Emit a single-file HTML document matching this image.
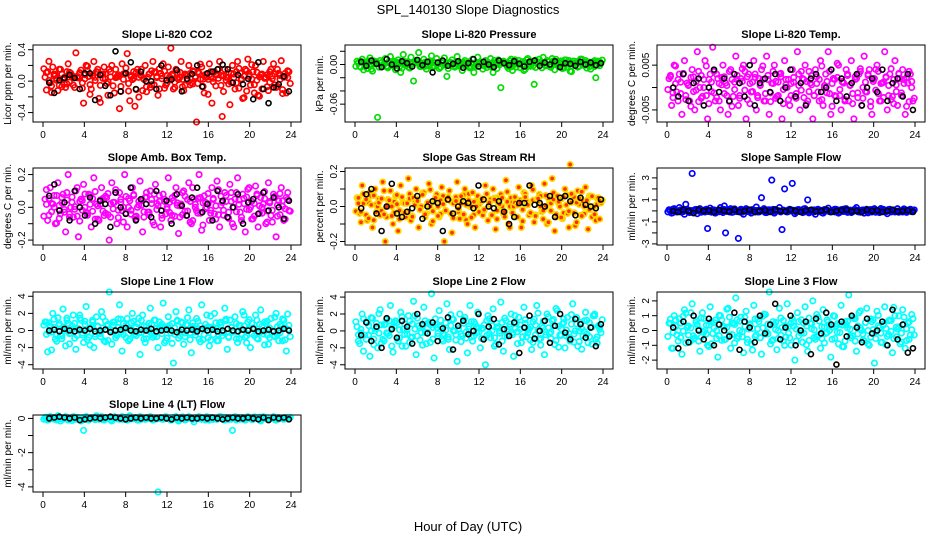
<!DOCTYPE html>
<html><head><meta charset="utf-8"><style>
html,body{margin:0;padding:0;background:#fff;}
svg{display:block;font-family:"Liberation Sans",sans-serif;}
</style></head><body>
<svg id="chart" width="936" height="540" viewBox="0 0 936 540">
<text x="468" y="14" text-anchor="middle" font-size="13">SPL_140130  Slope Diagnostics</text>
<text x="468" y="531" text-anchor="middle" font-size="13">Hour of Day (UTC)</text>
</svg>
<script>
const xTicks=[0,4,8,12,16,20,24];
const titles=["Slope Li-820 CO2","Slope Li-820 Pressure","Slope Li-820 Temp.","Slope Amb. Box Temp.","Slope Gas Stream RH","Slope Sample Flow","Slope Line 1 Flow","Slope Line 2 Flow","Slope Line 3 Flow","Slope Line 4 (LT) Flow"];
const yLabels=["Licor ppm per min.","kPa per min.","degrees C per min.","degrees C per min.","percent per min.","ml/min per min.","ml/min per min.","ml/min per min.","ml/min per min.","ml/min per min."];
const yRanges=[[-0.52,0.46],[-0.087,0.0295],[-0.0077,0.0095],[-0.23,0.24],[-0.22,0.22],[-3.1,3.9],[-4.5,4.5],[-4.5,4.6],[-2.6,2.6],[-4.3,0.2]];
const yTicks=[[-0.4,-0.2,0,0.2,0.4],[-0.06,-0.04,-0.02,0,0.02],[-0.005,0,0.005],[-0.2,-0.1,0,0.1,0.2],[-0.2,-0.1,0,0.1,0.2],[-3,-2,-1,0,1,2,3],[-4,-2,0,2,4],[-4,-2,0,2,4],[-2,-1,0,1,2],[-4,-3,-2,-1,0]];
const yTickLabels=[["-0.4","","0.0","","0.4"],["-0.06","","","0.00",""],["-0.005","","0.005"],["-0.2","","0.0","","0.2"],["-0.2","","0.0","","0.2"],["-3","","-1","","1","","3"],["-4","-2","0","2","4"],["-4","-2","0","2","4"],["-2","-1","0","1","2"],["-4","","-2","","0"]];
const colors=["#ff0000","#00dd00","#ff00ff","#ff00ff","#ffd700","#0000ff","#00ffff","#00ffff","#00ffff","#00ffff"];
const colored=[
[0.05,0.12,-0.02,0.18,0.08,-0.12,0.15,0.02,-0.08,0.22,0.1,-0.05,0.36,0.04,0.14,-0.28,0.2,0.06,-0.1,0.25,0.12,-0.22,0.08,0.18,-0.03,0.15,0.2,-0.15,0.05,-0.35,0.22,0.1,0.35,-0.25,0.02,-0.32,0.15,0.08,-0.12,0.2,0.05,-0.08,0.25,0.12,-0.18,0.1,0.22,-0.05,0.18,0.42,-0.1,0.15,0.02,0.25,-0.12,0.08,0.2,-0.02,0.12,-0.52,0.1,0.18,-0.15,0.05,0.22,-0.28,0.12,0.08,0.25,-0.45,0.15,0.05,-0.3,0.2,-0.1,0.25,0.1,-0.22,0.15,0.28,-0.05,0.12,0.2,-0.18,0.08,0.25,0.05,-0.12,0.15,0.22,-0.08,0.1,0.26,0.05,-0.15,0.12],
[0.005,-0.003,0.008,0.002,-0.006,0.01,-0.01,0.004,-0.08,0.006,-0.002,0.009,-0.005,0.012,0.003,-0.008,0.007,-0.012,0.015,0.001,-0.004,0.011,-0.025,0.006,0.018,-0.003,0.008,-0.007,0.004,0.013,-0.002,0.009,-0.006,0.005,0.01,-0.018,0.003,0.007,-0.004,0.012,0.002,-0.009,0.006,0.001,-0.005,0.008,-0.003,0.011,0.004,-0.007,0.006,-0.001,0.009,-0.012,0.003,0.007,-0.035,0.005,0.002,-0.006,0.008,0.001,-0.004,0.006,0.003,-0.009,0.007,-0.002,0.005,-0.03,0.004,0.008,-0.005,0.002,0.006,-0.003,0.009,-0.008,0.004,0.001,-0.006,0.007,0.003,-0.01,0.005,0.002,-0.004,0.008,-0.001,0.006,0.003,-0.007,0.004,-0.02,0.005,0.002],
[0.002,-0.004,0.005,-0.001,0.003,-0.006,0.006,0.001,-0.003,0.004,-0.005,0.008,0.0,-0.002,0.006,-0.007,0.003,0.009,-0.003,0.002,-0.005,0.005,0.001,-0.006,0.004,-0.002,0.007,-0.004,0.002,0.005,-0.007,0.003,-0.001,0.006,-0.005,0.002,0.004,-0.003,0.007,-0.006,0.001,0.005,-0.002,0.003,-0.007,0.006,0.0,-0.004,0.004,-0.002,0.008,-0.005,0.002,0.005,-0.003,0.001,-0.007,0.004,-0.001,0.006,-0.004,0.003,0.008,-0.006,0.002,-0.002,0.005,-0.005,0.001,0.004,-0.003,0.006,-0.007,0.002,0.003,-0.004,0.007,-0.001,0.004,-0.006,0.002,0.005,-0.003,0.001,0.008,-0.005,0.003,-0.002,0.006,-0.004,0.002,0.004,-0.006,0.001,0.003,-0.003],
[0.05,-0.08,0.12,0.02,-0.1,0.15,-0.04,0.08,-0.15,0.2,0.0,-0.06,0.1,-0.18,0.05,0.14,-0.03,0.08,-0.12,0.18,0.02,-0.08,0.12,-0.05,0.06,-0.2,0.15,0.03,-0.1,0.09,-0.02,0.2,-0.12,0.04,0.12,-0.06,0.0,0.16,-0.15,0.06,-0.03,0.1,-0.09,0.14,0.01,-0.12,0.08,-0.04,0.18,-0.08,0.04,0.12,-0.16,0.02,0.1,-0.05,0.15,-0.1,0.05,-0.02,0.2,-0.14,0.07,0.0,-0.08,0.12,-0.04,0.16,-0.12,0.03,0.09,-0.06,0.14,-0.1,0.05,0.18,-0.03,0.08,-0.15,0.11,0.0,-0.07,0.13,-0.12,0.06,0.02,-0.1,0.15,-0.05,0.08,-0.18,0.04,0.12,-0.08,0.06,-0.02],
[0.05,-0.04,0.12,0.02,-0.08,0.08,-0.12,0.1,0.0,-0.05,0.14,-0.2,0.04,0.09,-0.1,0.06,-0.14,0.12,0.02,-0.06,0.16,-0.08,0.05,0.1,-0.12,0.0,0.08,-0.04,0.13,-0.1,0.03,0.07,-0.06,0.11,-0.2,0.04,0.09,-0.15,0.02,0.14,-0.07,0.05,0.1,-0.1,0.0,0.08,-0.12,0.06,0.03,-0.05,0.12,-0.08,0.04,0.1,-0.13,0.02,0.07,-0.04,0.15,-0.1,0.05,0.0,-0.06,0.11,-0.12,0.08,0.03,-0.05,0.12,-0.09,0.04,0.07,-0.03,0.13,-0.1,0.02,0.16,-0.14,0.06,0.0,-0.07,0.1,-0.04,0.24,0.05,-0.11,0.09,-0.05,0.03,0.11,-0.13,0.06,0.0,-0.08,0.05,0.02],
[0.1,-0.2,0.2,-0.1,0.3,0.0,-0.3,0.15,-0.15,3.4,0.1,-0.25,0.2,0.0,-0.1,-1.6,0.25,0.1,-0.2,0.05,0.3,-0.15,-2.0,0.1,0.2,-0.1,0.0,-2.5,0.15,-0.3,0.2,0.1,-0.2,0.0,0.35,-0.1,1.2,0.2,-0.15,0.1,2.8,-0.2,0.0,0.3,-1.7,2.0,-0.1,0.15,2.5,-0.25,0.1,0.0,-0.15,0.2,1.0,-0.1,0.05,-0.3,0.15,0.0,-0.2,0.1,0.25,-0.1,0.0,0.15,-0.2,0.1,-0.05,0.2,0.0,-0.15,0.1,0.3,-0.1,0.05,-0.2,0.15,0.0,-0.1,0.2,0.05,-0.15,0.1,0.0,-0.25,0.15,0.05,-0.1,0.2,0.0,-0.1,0.1,-0.05,0.15,0.0],
[1.0,-2.5,0.5,2.0,-1.0,1.5,-0.5,2.5,-1.8,0.8,-0.3,1.8,-2.2,0.2,1.2,-1.4,2.8,-0.8,0.4,-2.0,1.6,-0.2,2.2,-1.2,0.6,4.5,-1.6,1.0,-0.6,3.0,-2.4,0.3,1.4,-1.0,2.0,-0.4,0.8,-2.8,1.8,-1.4,0.0,2.6,-0.8,1.2,-2.0,0.5,3.2,-1.2,1.6,-0.3,-3.8,2.2,-0.9,1.0,-1.6,0.7,2.4,-2.6,0.2,1.4,-1.0,3.0,-0.5,1.8,-1.8,0.4,2.0,-1.2,0.9,-0.6,2.6,-2.2,1.2,-0.2,1.6,-1.4,0.6,2.2,-0.8,1.0,-2.0,0.3,1.8,-1.0,2.4,-0.4,0.8,-1.6,1.4,-0.6,2.0,-1.2,0.5,1.2,-2.4,0.6],
[0.5,-1.5,2.0,-0.5,1.0,-3.0,1.5,0.0,-2.0,2.5,-1.0,0.8,-0.3,3.0,-2.5,1.2,-1.2,2.2,0.2,-1.8,1.8,-0.8,3.5,-2.8,0.6,-0.2,2.8,-1.5,1.0,4.4,-3.2,0.4,2.4,-1.0,-0.5,3.2,-2.2,1.4,0.0,-3.6,2.0,-0.6,1.6,-2.6,3.0,-1.2,0.8,2.2,-2.0,0.3,-4.0,1.8,-0.8,2.6,-1.6,0.5,3.4,-2.4,1.2,-0.4,2.0,-3.0,0.9,1.6,-1.4,2.8,-0.7,0.2,-2.2,1.4,3.0,-1.0,0.6,-2.8,2.0,-0.3,1.2,-1.6,2.4,-0.5,0.8,-2.0,1.6,-1.2,3.2,0.0,-1.8,1.0,-0.6,2.2,-1.4,0.4,1.8,-1.0,0.6,-0.2],
[0.5,-1.2,1.0,-0.3,0.8,-1.6,1.4,0.2,-0.8,1.8,-0.5,0.4,-1.4,1.2,0.0,-1.0,1.6,-0.2,0.7,-1.8,1.0,0.3,-0.6,1.5,-1.2,0.5,2.2,-0.4,0.9,-1.5,1.3,0.1,-0.9,1.7,-0.3,0.6,-1.6,1.1,-0.1,2.6,-0.7,0.4,-1.3,1.5,0.2,-1.0,1.8,-0.5,0.8,-2.0,1.2,0.0,-0.8,1.6,-1.4,0.5,2.0,-0.6,0.9,-1.2,1.4,-0.2,0.6,-1.8,1.0,0.3,-0.9,1.7,-1.1,0.4,2.4,-0.5,0.8,-1.4,1.2,0.0,-0.7,1.5,-1.0,0.6,-2.2,1.3,0.2,-0.8,1.6,-0.4,0.7,-1.5,1.0,0.1,-0.9,1.4,-1.2,0.5,-0.3,0.8],
[0.05,-0.1,0.1,0.0,-0.05,0.15,-0.15,0.05,0.1,-0.1,0.0,0.1,-0.05,0.05,-0.15,-0.7,0.1,-0.1,0.05,0.0,0.15,-0.05,0.1,-0.1,0.05,0.0,-0.15,0.1,0.05,-0.05,0.1,0.0,-0.1,0.15,0.0,0.05,-0.1,0.1,0.0,-0.05,0.05,0.1,-0.1,0.0,-4.3,0.05,-0.05,0.1,0.0,-0.1,0.05,0.1,-0.15,0.0,0.05,-0.05,0.1,0.0,-0.2,0.05,0.1,-0.05,0.0,0.1,-0.1,0.05,0.0,-0.05,0.1,0.05,-0.1,0.0,0.05,-0.7,0.1,0.0,-0.05,0.05,-0.1,0.1,0.0,-0.05,0.05,0.0,-0.15,0.1,0.05,-0.05,0.0,0.1,-0.1,0.05,0.0,-0.05,0.05,0.0]
];
const black=[
[-0.02,-0.15,0.01,0.04,0.08,0.04,-0.1,0.1,0.1,-0.24,0.08,-0.06,-0.18,0.38,-0.13,0.1,0.24,-0.1,0.12,0.0,0.0,-0.1,0.2,0.01,0.02,0.14,-0.13,0.03,0.09,0.2,-0.07,0.1,0.12,0.15,0.21,0.15,-0.02,0.08,-0.04,0.03,-0.23,0.24,-0.1,-0.28,-0.08,-0.04,0.06,-0.13],
[0.004,-0.002,0.006,0.001,-0.004,0.008,0.0,-0.006,0.005,0.002,-0.003,0.007,-0.001,0.004,-0.012,0.003,0.006,-0.002,0.001,0.005,-0.005,0.002,0.008,-0.003,0.004,0.0,-0.004,0.006,0.002,-0.001,0.005,0.001,-0.003,0.004,0.006,-0.002,0.003,0.0,0.005,-0.004,0.002,0.001,-0.002,0.004,0.0,0.003,-0.001,0.002],
[0.0,-0.002,0.003,-0.003,0.001,0.002,-0.004,0.0,0.004,-0.001,0.002,-0.003,0.003,0.001,-0.002,0.005,-0.004,0.001,0.002,-0.001,0.003,-0.003,0.0,0.004,-0.002,0.001,-0.004,0.002,0.003,-0.001,0.0,0.004,-0.003,0.002,-0.002,0.001,0.003,-0.004,0.0,0.002,-0.001,0.004,-0.003,0.001,0.002,-0.002,0.003,-0.005],
[0.07,0.14,-0.02,0.03,-0.08,0.1,0.0,-0.05,0.06,-0.1,0.04,0.02,-0.12,0.09,0.0,-0.04,0.12,-0.08,0.05,0.02,-0.06,0.1,-0.02,0.04,-0.1,0.08,0.01,-0.05,0.06,0.12,-0.03,0.02,-0.08,0.1,0.04,-0.06,0.0,0.08,-0.1,0.03,0.05,-0.04,0.09,-0.02,0.06,0.0,-0.07,0.04],
[-0.01,0.07,0.1,-0.04,-0.14,0.0,0.13,-0.04,-0.06,-0.03,-0.01,0.06,-0.07,0.0,0.03,0.02,-0.14,0.04,-0.04,0.0,0.03,0.02,-0.01,0.12,0.04,0.0,-0.01,0.03,-0.03,-0.1,-0.06,0.02,0.02,0.12,0.01,0.02,0.0,0.06,-0.06,0.05,0.06,0.03,-0.05,0.05,0.01,0.0,-0.01,0.04],
[0.0,-0.1,0.1,0.0,-0.2,0.1,0.0,0.05,-0.1,0.1,0.0,-0.05,0.1,-0.1,0.0,0.1,-0.1,0.0,0.05,-0.1,0.1,0.0,-0.05,0.1,0.0,-0.1,0.05,0.1,-0.05,0.0,0.1,-0.1,0.0,0.05,0.1,-0.05,0.0,-0.1,0.1,0.0,0.05,-0.1,0.0,0.1,-0.05,0.0,0.05,-0.1],
[0.0,0.1,-0.1,0.2,0.0,-0.1,0.1,0.0,0.2,-0.1,0.0,0.1,-0.2,0.0,0.1,0.3,0.0,-0.1,0.1,0.0,0.2,-0.1,0.0,0.1,0.0,-0.2,0.1,0.0,0.1,-0.1,0.2,0.0,0.1,-0.1,0.0,0.2,0.0,-0.1,0.1,0.0,0.2,-0.1,0.0,0.1,-0.1,0.0,0.2,0.0],
[-0.5,1.0,-1.2,0.5,-2.0,1.5,0.2,-0.8,1.2,0.5,-1.5,2.0,0.8,-0.3,1.0,-1.2,0.3,1.6,-2.2,0.6,1.2,-0.4,0.0,2.0,-1.0,0.5,1.4,-1.6,0.2,-0.6,1.0,-2.6,0.4,1.8,-0.9,0.0,1.2,-1.4,0.6,2.0,-0.2,-1.0,1.4,0.8,-0.8,0.4,-1.8,0.8],
[0.2,-1.2,0.6,-0.8,1.0,0.0,-0.6,0.8,-1.0,0.4,0.0,-0.4,1.2,-1.3,0.6,0.2,-0.8,1.0,-0.2,0.4,1.8,-0.6,0.2,1.0,-1.0,0.0,0.6,-1.6,0.8,-0.2,1.2,0.4,-2.3,0.6,-0.4,1.0,0.2,-0.8,0.8,-0.2,0.0,0.6,-1.0,1.4,-0.6,0.4,-1.5,-1.2],
[0.0,0.05,0.1,0.05,0.0,0.05,-0.1,-0.05,0.0,0.05,0.0,0.05,0.1,0.05,0.0,-0.05,0.0,0.05,0.0,0.05,0.0,0.0,0.05,0.0,-0.05,0.05,0.0,0.05,0.0,0.0,0.05,0.0,0.05,0.0,-0.05,0.0,0.05,0.0,0.0,0.05,0.0,-0.05,0.05,-0.1,0.05,0.0,0.05,-0.05]
];
const svg=document.getElementById('chart');
const NS='http://www.w3.org/2000/svg';
const colLeft=[33,345,657], rowTop=[45,168,292,415], W=268, H=77;
function mk(tag,attrs,parent){const e=document.createElementNS(NS,tag);for(const k in attrs)e.setAttribute(k,attrs[k]);parent.appendChild(e);return e;}
for(let p=0;p<titles.length;p++){
  const L=colLeft[p%3], T=rowTop[Math.floor(p/3)];
  const g=mk('g',{},svg);
  
  
  const [ymin,ymax]=yRanges[p];
  const xs=h=>L+10+h*(W-20)/24;
  const ys=v=>T+H-(v-ymin)/(ymax-ymin)*H;
  const t=mk('text',{x:L+W/2,y:T-7,'text-anchor':'middle','font-size':'11','font-weight':'bold'},g);
  t.textContent=titles[p];
  
  
  const yl=mk('text',{x:0,y:0,'text-anchor':'middle','font-size':'10',transform:`translate(${L-22},${T+H/2}) rotate(-90)`},g);
  yl.textContent=yLabels[p];
  
  
  const cs=colored[p], n=cs.length;
  const meanAbs=cs.reduce((a,b)=>a+Math.abs(b),0)/n;
  const pg=mk('g',{},g);
  
  
  const fillC=(p==4?'#ff3000':'none');
  for(let i=0;i<n;i++){
    const h=0.2+i*23.6/(n-1);
    const c=mk('circle',{cx:xs(h),cy:ys(cs[i]),r:2.7,fill:fillC,stroke:colors[p],'stroke-width':1.7},pg);
    
    
    // companion points (neighbouring minutes) built from the same series, outliers excluded
    [[Math.floor(n/2),0.6,1.3],[Math.floor(n/3),0.45,-1.2]].forEach(([off,f,dx])=>{
      const v=cs[(i+off)%n];
      if(Math.abs(v)>3*meanAbs) return;
      const c2=mk('circle',{cx:xs(h)+dx,cy:ys(v*f),r:2.7,fill:fillC,stroke:colors[p],'stroke-width':1.7},pg);
      
      
    });
  }
  const bs=black[p], m=bs.length;
  const bg=mk('g',{},g);
  
  
  for(let i=0;i<m;i++){
    const h=0.6+i*23.2/(m-1);
    const c=mk('circle',{cx:xs(h),cy:ys(bs[i]),r:2.5,fill:'none',stroke:'#000','stroke-width':1.6},bg);
    
    
  }
  const box=mk('rect',{x:L,y:T,width:W,height:H,fill:'none',stroke:'#000','stroke-width':1},g);
  
  
  mk('line',{x1:xs(0),x2:xs(24),y1:T+H,y2:T+H,stroke:'#000'},g);
  xTicks.forEach(v=>{
    mk('line',{x1:xs(v),x2:xs(v),y1:T+H,y2:T+H+5,stroke:'#000'},g);
    const tx=mk('text',{x:xs(v),y:T+H+16,'text-anchor':'middle','font-size':'10'},g);
    tx.textContent=v;
    
    
  });
  const yt=yTicks[p];
  mk('line',{x1:L,x2:L,y1:ys(Math.min(...yt)),y2:ys(Math.max(...yt)),stroke:'#000'},g);
  yt.forEach((v,k)=>{
    mk('line',{x1:L-5,x2:L,y1:ys(v),y2:ys(v),stroke:'#000'},g);
    const lab=yTickLabels[p][k];
    if(lab){
      const tx=mk('text',{x:0,y:0,'text-anchor':'middle','font-size':'10',transform:`translate(${L-8},${ys(v)}) rotate(-90)`},g);
      tx.textContent=lab;
      
      
    }
  });
}
</script>
</body></html>
